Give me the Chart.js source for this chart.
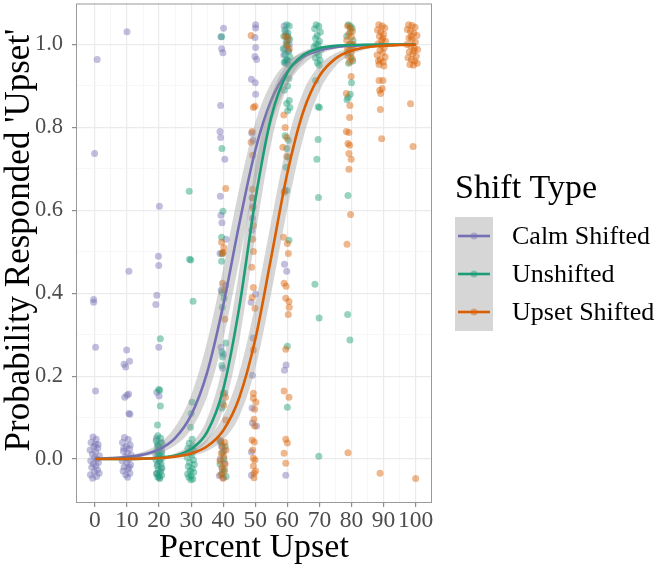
<!DOCTYPE html>
<html>
<head>
<meta charset="utf-8">
<script src="https://cdn.jsdelivr.net/npm/chart.js@4"></script>
<style>
  body { margin: 0; background: #fff; }
  canvas { display: block; }
</style>
</head>
<body>
<canvas id="chart" width="657" height="568"></canvas>
<script>
// Axis ticks
const xTicks = [0, 10, 20, 30, 40, 50, 60, 70, 80, 90, 100];
const yTicks = [0, 0.2, 0.4, 0.6, 0.8, 1.0];
const yTickLabels = ['0.0', '0.2', '0.4', '0.6', '0.8', '1.0'];

const seriesNames = ['Calm Shifted', 'Unshifted', 'Upset Shifted'];
const legendTitle = 'Shift Type';
const xTitle = 'Percent Upset';
const yTitle = "Probability Responded 'Upset'";

// Jittered responses, [percent upset, response]
const calmPoints = [
  [-0.6,0.053],[0.4,0.048],[-1.2,0.04],[1.0,0.035],[-0.3,0.03],[0.9,0.026],[-1.5,0.022],[0.2,0.018],
  [-0.8,0.012],[1.4,0.008],[-0.1,0.004],[0.6,0.0],[-1.3,-0.004],[1.1,-0.008],[-0.5,-0.012],[0.3,-0.016],
  [-1.0,-0.02],[0.8,-0.026],[-0.2,-0.03],[1.3,-0.034],[-1.4,-0.038],[0.5,-0.042],[-0.7,-0.046],[0.1,0.036],
  [0.7,0.964],[-0.1,0.737],[-0.4,0.385],[-0.4,0.378],[0.2,0.27],[0.2,0.164],
  [9.2,0.052],[10.4,0.047],[8.6,0.04],[11.0,0.034],[9.8,0.03],[10.8,0.024],[8.9,0.019],[10.1,0.014],
  [11.3,0.01],[9.4,0.005],[10.6,0.0],[8.5,-0.004],[9.9,-0.009],[11.1,-0.014],[9.1,-0.019],[10.3,-0.024],
  [8.8,-0.029],[10.9,-0.034],[9.6,-0.038],[10.2,-0.044],[9.0,0.026],[10.7,-0.02],
  [10.0,1.031],[10.6,0.453],[9.9,0.263],[9.1,0.229],[9.6,0.222],[10.8,0.236],[9.3,0.149],[10.0,0.154],
  [10.5,0.157],[10.6,0.11],[10.9,0.108],
  [19.2,0.05],[20.6,0.04],[19.6,0.03],[20.9,0.02],[19.0,0.01],[20.3,0.0],[19.5,-0.012],[20.7,-0.024],
  [19.3,-0.035],[20.1,-0.045],
  [20.1,0.61],[19.8,0.489],[19.9,0.467],[19.3,0.395],[19.0,0.373],[19.9,0.27],[19.3,0.161],[20.0,0.152],
  [40.1,1.039],[39.3,1.019],[39.5,0.99],[39.9,0.98],[39.2,0.853],[39.0,0.79],[39.2,0.776],[40.5,0.723],
  [39.1,0.634],[39.3,0.588],[39.6,0.57],[40.9,0.53],[39.0,0.496],[40.8,0.419],[39.4,0.407],[39.3,0.27],
  [40.0,0.253],[39.8,0.219],
  [38.9,0.045],[39.5,0.03],[40.2,0.02],[39.1,0.0],[40.4,-0.01],[39.7,-0.025],[38.8,-0.04],[40.0,-0.045],
  [50.1,1.048],[50.1,1.04],[49.9,1.017],[50.1,0.993],[49.9,0.971],[50.4,0.964],[48.8,0.916],[50.0,0.908],
  [50.1,0.88],[48.9,0.786],[49.3,0.769],[49.0,0.631],[49.3,0.61],[49.1,0.581],[48.9,0.552],[50.1,0.398],
  [48.7,0.378],[49.3,0.292],[49.1,0.202],[49.0,0.123],[49.1,0.087],[50.4,0.08],[48.8,0.017],[48.8,-0.039],
  [59.7,1.02],[59.2,0.99],[60.3,0.985],[58.9,0.975],[60.2,0.96],[59.5,1.03],[60.6,1.0],[59.0,1.045],
  [60.0,1.01],[59.4,0.955],
  [59.2,0.648],[59.1,0.47],[59.8,0.453],[59.6,0.227],[59.1,0.214],[59.5,-0.039]
];

const unshiftedPoints = [
  [19.6,0.056],[20.5,0.05],[19.1,0.044],[20.9,0.038],[19.9,0.032],[20.3,0.026],[19.3,0.02],[20.7,0.014],
  [19.7,0.009],[21.1,0.004],[19.0,-0.001],[20.1,-0.006],[20.6,-0.011],[19.4,-0.016],[20.9,-0.021],[19.8,-0.026],
  [20.4,-0.031],[19.2,-0.035],[20.8,-0.039],[19.6,-0.043],[20.2,-0.047],[19.5,0.035],[20.0,0.012],[19.9,-0.04],
  [20.4,0.29],[19.9,0.168],[20.2,0.166],[20.4,0.128],[19.5,0.082],
  [29.4,0.038],[30.5,0.032],[29.0,0.026],[30.9,0.02],[29.8,0.015],[30.2,0.01],[28.8,0.004],[30.7,-0.002],
  [29.5,-0.008],[31.0,-0.013],[29.1,-0.018],[30.3,-0.023],[29.7,-0.028],[30.8,-0.032],[28.9,-0.036],[30.0,-0.04],
  [29.3,-0.044],[30.5,-0.048],[29.9,-0.05],[30.1,0.025],
  [29.4,0.646],[29.5,0.482],[29.9,0.48],[30.6,0.381],[30.3,0.137],[30.0,0.11],[29.8,0.077],[30.3,0.048],
  [39.5,1.019],[39.6,0.749],[39.9,0.598],[39.5,0.535],[39.6,0.496],[39.5,0.477],[39.7,0.402],[40.3,0.388],
  [39.7,0.366],[40.8,0.28],[39.6,0.258],[39.8,0.246],[39.6,0.226],[40.5,0.159],[39.8,0.135],[39.6,0.123],
  [39.3,0.04],[40.6,0.03],[39.8,0.015],[40.2,0.0],[39.0,-0.012],[40.4,-0.025],[39.6,-0.035],[40.9,-0.042],
  [59.8,1.048],[60.6,1.045],[59.2,1.035],[60.2,1.028],[58.9,1.02],[60.7,1.012],[59.6,1.005],[60.0,0.998],
  [58.7,0.99],[60.4,0.984],[59.3,0.976],[60.8,0.97],[59.9,0.963],[59.0,0.957],[60.3,0.952],[59.5,0.96],
  [60.1,1.02],
  [60.5,0.918],[60.1,0.9],[59.0,0.89],[60.6,0.865],[59.8,0.858],[60.8,0.848],[60.1,0.84],[59.3,0.78],
  [60.3,0.769],[59.8,0.749],[60.3,0.728],[59.6,0.704],[59.8,0.648],[60.5,0.528],[60.0,0.272],[60.0,0.125],
  [69.0,1.048],[69.8,1.044],[68.5,1.038],[70.3,1.03],[69.3,1.022],[68.8,1.015],[70.0,1.008],[69.5,1.0],
  [68.3,0.994],[70.5,0.988],[69.1,0.981],[69.8,0.975],[68.7,0.968],[70.2,0.962],[69.4,0.956],[69.9,0.95],
  [68.9,1.0],
  [68.8,0.913],[69.6,0.85],[70.0,0.848],[69.6,0.771],[69.2,0.723],[69.7,0.631],[68.6,0.422],[69.9,0.34],
  [69.8,0.007],
  [79.0,1.048],[80.2,1.04],[79.6,1.03],[78.5,1.02],[80.5,1.01],[79.3,1.0],[80.0,0.99],[78.8,0.98],
  [79.8,0.97],[80.4,0.96],[79.1,0.955],[79.6,1.045],
  [80.0,0.908],[78.9,0.872],[79.6,0.88],[78.6,0.867],[78.9,0.636],[78.8,0.349],[79.5,0.287]
];

const upsetPoints = [
  [40.8,0.653],[39.5,0.523],[40.2,0.51],[40.0,0.499],[39.8,0.496],[39.8,0.424],[40.4,0.407],[40.5,0.337],
  [40.0,0.159],[40.7,0.149],[40.2,0.13],[40.8,0.094],
  [39.2,0.045],[40.5,0.04],[39.7,0.03],[40.9,0.022],[39.4,0.014],[40.2,0.006],[39.0,-0.004],[40.6,-0.012],
  [39.6,-0.02],[40.3,-0.03],[39.3,-0.038],[40.0,-0.046],
  [48.7,1.022],[49.4,0.848],[49.9,0.851],[49.0,0.79],[48.7,0.764],[49.2,0.733],[49.1,0.651],[49.2,0.629],
  [49.2,0.605],[49.4,0.564],[49.2,0.53],[49.4,0.501],[48.9,0.463],[49.4,0.414],[49.0,0.39],[49.9,0.364],
  [49.4,0.263],[49.4,0.159],[49.4,0.147],[50.2,0.137],[49.8,0.12],[49.6,0.096],[49.8,0.08],[49.0,0.046],
  [49.7,0.041],[49.2,0.022],[49.4,0.002],[49.9,-0.002],[49.4,-0.017],[50.1,-0.029],[49.6,-0.034],[49.6,-0.045],
  [59.3,1.02],[60.3,1.015],[59.8,1.0],[60.6,0.99],
  [58.9,0.83],[59.3,0.8],[59.8,0.776],[58.6,0.752],[59.8,0.73],[59.0,0.643],[58.8,0.535],[60.0,0.52],
  [60.3,0.496],[59.0,0.424],[59.6,0.417],[59.5,0.388],[60.5,0.38],[60.6,0.366],[60.3,0.349],[59.5,0.265],
  [59.0,0.164],[60.5,0.149],[59.5,0.048],[60.0,0.039],[59.0,0.014],[59.5,-0.01],
  [78.8,1.045],[79.6,1.04],[80.3,1.032],[79.1,1.025],[80.0,1.018],[78.5,1.01],[79.8,1.002],[80.6,0.995],
  [79.3,0.988],[79.9,0.98],[78.9,0.972],[80.2,0.965],[79.5,0.958],[80.5,1.0],[78.7,0.99],
  [79.9,0.923],[78.4,0.882],[79.5,0.853],[79.4,0.824],[78.4,0.79],[79.2,0.788],[78.9,0.761],[79.4,0.757],
  [79.2,0.737],[79.9,0.723],[79.2,0.699],[79.7,0.59],[78.6,0.518],[78.9,0.015],
  [88.5,1.048],[89.6,1.045],[90.4,1.04],[88.1,1.035],[89.1,1.03],[90.0,1.025],[88.7,1.02],[89.8,1.015],
  [90.6,1.008],[88.3,1.002],[89.3,0.998],[90.2,0.992],[88.9,0.986],[89.7,0.98],[88.0,0.975],[90.5,0.97],
  [89.0,0.964],[89.9,0.958],[88.6,0.952],[90.1,0.948],[89.4,1.01],[88.4,0.96],
  [88.6,0.913],[89.8,0.913],[88.8,0.89],[89.6,0.894],[89.1,0.882],[89.0,0.843],[89.4,0.773],[88.9,-0.034],
  [97.8,1.048],[98.9,1.046],[99.8,1.042],[97.4,1.036],[98.4,1.032],[99.4,1.028],[100.4,1.022],[97.9,1.016],
  [98.8,1.012],[99.9,1.006],[97.3,1.0],[98.5,0.996],[99.6,0.992],[100.6,0.988],[98.0,0.982],[99.1,0.978],
  [100.2,0.972],[97.6,0.968],[98.7,0.964],[99.7,0.96],[100.5,0.955],[98.2,0.952],[99.3,0.95],[98.6,1.02],
  [99.5,0.985],
  [98.4,0.857],[99.2,0.754],[100.0,-0.047]
];

// Fitted curves with confidence band, read at every 5 points
const curveX = [0, 5, 10, 15, 20, 25, 30, 35, 40, 45, 50, 55, 60, 65, 70, 75, 80, 85, 90, 95, 100];

const calmFit  = [0.001,0.0022,0.0048,0.0107,0.0234,0.0507,0.106,0.209,0.371,0.567,0.745,0.866,0.935,0.970,0.986,0.9938,0.9972,0.9987,0.9994,0.9997,0.9999];
const calmLow  = [0.0005,0.0012,0.0028,0.0064,0.0145,0.0326,0.0718,0.151,0.289,0.478,0.664,0.810,0.902,0.952,0.977,0.9893,0.9950,0.9977,0.9989,0.9995,0.9998];
const calmHigh = [0.0018,0.0039,0.0083,0.0178,0.0377,0.078,0.154,0.283,0.460,0.652,0.812,0.908,0.958,0.981,0.9917,0.9964,0.9984,0.9993,0.9997,0.9999,1.0];

const unshiftedFit  = [0.0,0.0001,0.0004,0.0010,0.0030,0.0084,0.0239,0.0654,0.168,0.366,0.625,0.826,0.932,0.975,0.9913,0.9969,0.9989,0.9996,0.9999,0.9999,1.0];
const unshiftedLow  = [0.0,0.0001,0.0002,0.0006,0.0018,0.0052,0.0152,0.0435,0.119,0.285,0.537,0.763,0.900,0.962,0.986,0.9949,0.9982,0.9993,0.9997,0.9999,1.0];
const unshiftedHigh = [0.0001,0.0002,0.0006,0.0018,0.0050,0.0137,0.0373,0.097,0.231,0.455,0.705,0.875,0.954,0.984,0.9946,0.9981,0.9994,0.9998,0.9999,1.0,1.0];

const upsetFit  = [0.0001,0.0002,0.0005,0.0011,0.0025,0.0058,0.0134,0.0308,0.0691,0.148,0.289,0.488,0.690,0.839,0.924,0.966,0.985,0.9936,0.9973,0.9988,0.9995];
const upsetLow  = [0.0,0.0001,0.0002,0.0006,0.0014,0.0034,0.0082,0.0194,0.0457,0.103,0.218,0.401,0.603,0.776,0.887,0.947,0.976,0.9892,0.9952,0.9979,0.9991];
const upsetHigh = [0.0002,0.0004,0.0008,0.0019,0.0043,0.0098,0.0219,0.0483,0.103,0.208,0.373,0.574,0.765,0.887,0.950,0.979,0.991,0.9962,0.9984,0.9994,0.9997];

const serif = "'Liberation Serif', 'Times New Roman', serif";
Chart.defaults.font.family = serif;

const colors = ['#7570B3', '#1B9E77', '#D95F02'];
const pointColors = ['rgba(117,112,179,0.45)', 'rgba(27,158,119,0.45)', 'rgba(217,95,2,0.45)'];
const bandColor = 'rgba(153,153,153,0.4)';

function curve(ys) {
    return ys.map((y, i) => ({ x: curveX[i], y: y }));
}

function pointSet(label, pairs, color, order) {
    return {
        type: 'scatter', label, order,
        data: pairs.map(p => ({ x: p[0], y: p[1] })),
        backgroundColor: color, borderWidth: 0,
        pointRadius: 3.5, pointHoverRadius: 3.5
    };
}

function bandSets(low, high, order) {
    return [
        { type: 'line', data: curve(low), order, borderColor: 'transparent', borderWidth: 0,
          pointRadius: 0, fill: false, cubicInterpolationMode: 'monotone' },
        { type: 'line', data: curve(high), order, borderColor: 'transparent', borderWidth: 0,
          pointRadius: 0, fill: '-1', backgroundColor: bandColor, cubicInterpolationMode: 'monotone' }
    ];
}

function fitSet(fit, color, order) {
    return { type: 'line', data: curve(fit), order, borderColor: color, borderWidth: 2.6,
             pointRadius: 0, fill: false, cubicInterpolationMode: 'monotone' };
}

function isMajor(v, list) {
    return list.some(t => Math.abs(t - v) < 1e-6);
}

// minor grid halfway between the labelled ticks
function withMinor(list) {
    const out = [];
    list.forEach((v, i) => {
        out.push(v);
        if (i < list.length - 1) out.push((v + list[i + 1]) / 2);
    });
    return out;
}

// panel border drawn over everything + y title
const panelBorder = {
    id: 'panelBorder',
    afterDatasetsDraw(chart) {
        const { ctx, chartArea: a } = chart;
        ctx.save();
        ctx.strokeStyle = '#999999';
        ctx.lineWidth = 1;
        ctx.strokeRect(a.left + 0.5, a.top + 0.5, a.right - a.left - 1, a.bottom - a.top - 1);

        // y axis title, ggplot puts it a little above the panel middle here
        ctx.translate(20, 240);
        ctx.rotate(-Math.PI / 2);
        ctx.fillStyle = '#000';
        ctx.font = `35px ${serif}`;
        ctx.textAlign = 'center';
        ctx.textBaseline = 'middle';
        ctx.fillText(yTitle, 0, 0);
        ctx.restore();
    }
};

// ggplot style legend with grey key background
const shiftLegend = {
    id: 'shiftLegend',
    afterDraw(chart) {
        const ctx = chart.ctx;
        ctx.save();
        ctx.fillStyle = '#000';
        ctx.font = `34px ${serif}`;
        ctx.textBaseline = 'alphabetic';
        ctx.fillText(legendTitle, 455, 198);

        ctx.fillStyle = bandColor;
        ctx.fillRect(455, 217, 38, 114);

        ctx.font = `26px ${serif}`;
        ctx.textBaseline = 'middle';
        seriesNames.forEach((name, i) => {
            const cy = 236 + i * 38;
            ctx.fillStyle = pointColors[i];
            ctx.beginPath();
            ctx.arc(474, cy, 3.5, 0, Math.PI * 2);
            ctx.fill();
            ctx.strokeStyle = colors[i];
            ctx.lineWidth = 2.6;
            ctx.beginPath();
            ctx.moveTo(458, cy);
            ctx.lineTo(490, cy);
            ctx.stroke();
            ctx.fillStyle = '#000';
            ctx.fillText(name, 512, cy + 1);
        });
        ctx.restore();
    }
};

const datasets = [
    pointSet(seriesNames[0], calmPoints, pointColors[0], 12),
    pointSet(seriesNames[1], unshiftedPoints, pointColors[1], 11),
    pointSet(seriesNames[2], upsetPoints, pointColors[2], 10),
    ...bandSets(calmLow, calmHigh, 7),
    fitSet(calmFit, colors[0], 6),
    ...bandSets(unshiftedLow, unshiftedHigh, 5),
    fitSet(unshiftedFit, colors[1], 4),
    ...bandSets(upsetLow, upsetHigh, 3),
    fitSet(upsetFit, colors[2], 2)
];

new Chart(document.getElementById('chart'), {
    type: 'scatter',
    data: { datasets },
    plugins: [panelBorder, shiftLegend],
    options: {
        responsive: false,
        animation: false,
        layout: { padding: { top: 3, right: 225, bottom: 0, left: 0 } },
        plugins: {
            legend: { display: false },
            tooltip: { enabled: false }
        },
        scales: {
            x: {
                type: 'linear',
                min: -5.9,
                max: 105.1,
                afterBuildTicks: scale => { scale.ticks = withMinor(xTicks).map(v => ({ value: v })); },
                afterFit: scale => {
                    scale.height = 65;
                    scale.paddingLeft = 0;
                    scale.paddingRight = 0;
                },
                ticks: {
                    autoSkip: false, maxRotation: 0, minRotation: 0,
                    color: '#4D4D4D', font: { size: 23.5 }, padding: 0,
                    callback: v => isMajor(v, xTicks) ? String(v) : ''
                },
                grid: {
                    color: c => isMajor(c.tick.value, xTicks) ? '#EBEBEB' : '#F3F3F3',
                    lineWidth: c => isMajor(c.tick.value, xTicks) ? 1.2 : 0.7,
                    tickColor: c => isMajor(c.tick.value, xTicks) ? '#8C8C8C' : 'transparent',
                    tickLength: 4
                },
                border: { display: false },
                title: { display: true, text: xTitle, color: '#000',
                         font: { size: 34 }, padding: 0 }
            },
            y: {
                type: 'linear',
                min: -0.106,
                max: 1.099,
                afterBuildTicks: scale => { scale.ticks = withMinor(yTicks).map(v => ({ value: v })); },
                afterFit: scale => {
                    scale.width = 76;
                    scale.paddingTop = 0;
                    scale.paddingBottom = 0;
                },
                ticks: {
                    autoSkip: false, color: '#4D4D4D', font: { size: 22.5 }, padding: 9,
                    callback: v => {
                        const i = yTicks.findIndex(t => Math.abs(t - v) < 1e-6);
                        return i >= 0 ? yTickLabels[i] : '';
                    }
                },
                grid: {
                    color: c => isMajor(c.tick.value, yTicks) ? '#EBEBEB' : '#F3F3F3',
                    lineWidth: c => isMajor(c.tick.value, yTicks) ? 1.2 : 0.7,
                    tickColor: c => isMajor(c.tick.value, yTicks) ? '#8C8C8C' : 'transparent',
                    tickLength: 4
                },
                border: { display: false },
                title: { display: false }
            }
        }
    }
});
</script>
</body>
</html>
